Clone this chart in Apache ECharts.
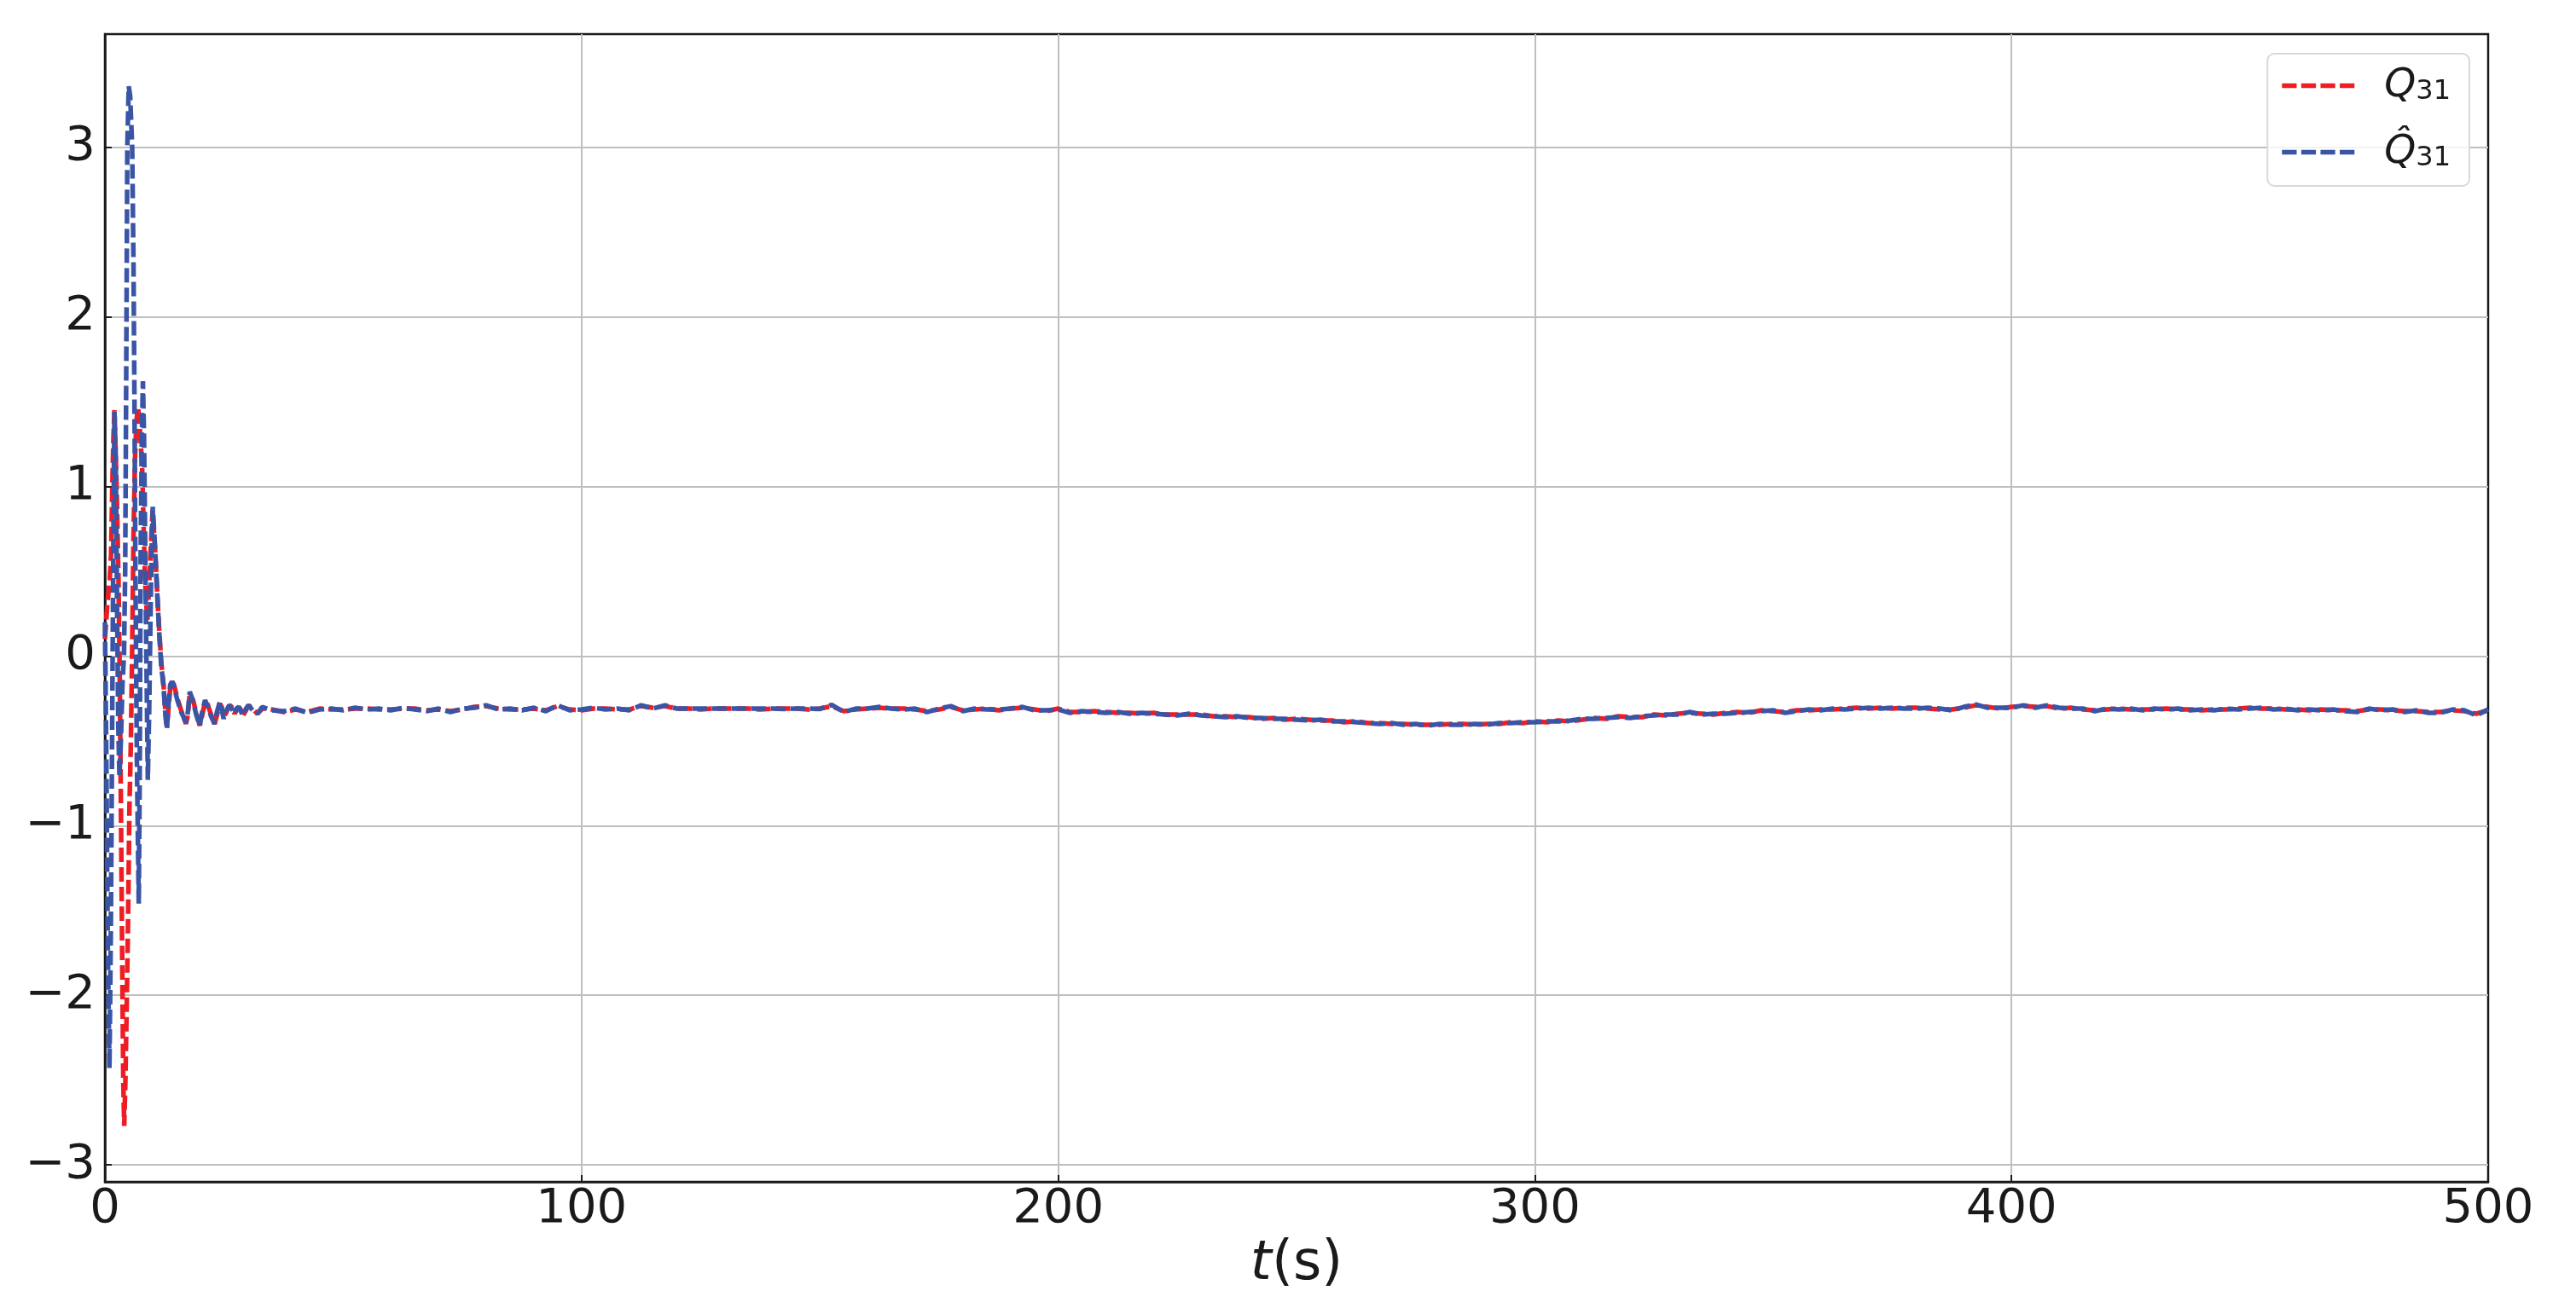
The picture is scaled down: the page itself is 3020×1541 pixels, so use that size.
<!DOCTYPE html>
<html>
<head>
<meta charset="utf-8">
<script src="https://cdn.jsdelivr.net/npm/echarts@6/dist/echarts.min.js"></script>
<style>
  html, body { margin: 0; padding: 0; background: #fff; }
  #chart { width: 3020px; height: 1541px; }
</style>
</head>
<body>
<div id="chart"></div>
<script>
// Q31 (red): start-up transient
const tEarlyQ = [0, 0.5, 1.0, 1.3, 1.55, 1.8, 2.0, 2.45, 2.85, 3.1,
  3.35, 3.65, 3.85, 4.05, 4.3, 4.55, 4.85, 5.15, 5.45, 5.7,
  6.0, 6.3, 6.6, 6.95, 7.3, 7.8, 8.4, 8.9, 9.4, 10.0]
const qEarly = [0.1, 0.3, 0.45, 0.6, 1.0, 1.3, 1.45, 1.0, 0.45, -0.1,
  -0.87, -1.86, -2.5, -2.77, -2.5, -2.1, -1.57, -0.89, -0.5, 0.0,
  0.7, 1.15, 1.38, 1.47, 1.35, 1.12, 0.46, 0.2, 0.5, 0.86]

// Q31 hat (blue): start-up transient
const tEarlyHat = [0, 0.3, 0.6, 0.95, 1.25, 1.55, 1.8, 2.0, 2.25, 2.55,
  2.8, 3.05, 3.35, 3.7, 4.0, 4.25, 4.35, 4.53, 4.7, 5.0,
  5.3, 5.72, 6.0, 6.2, 6.4, 6.7, 7.1, 7.3, 7.5, 7.75,
  7.97, 8.2, 8.4, 8.7, 9.0, 9.3, 9.6, 9.85, 10.05]
const qHatEarly = [0.2, -0.6, -1.7, -2.43, -1.6, -0.3, 0.8, 1.44, 1.2, 0.3,
  -0.4, -0.71, -0.5, -0.15, 0.0, 0.5, 1.0, 2.0, 3.0, 3.36,
  3.3, 3.0, 2.3, 1.5, 0.5, -0.6, -1.46, -0.7, 0.6, 1.3,
  1.62, 1.3, 0.8, 0.0, -0.73, -0.3, 0.3, 0.7, 0.88]

// damped ringing, both series
const tDecay = [10.5, 11.0, 11.4, 11.8, 12.3, 12.7, 13.0, 13.3, 13.7, 14.1,
  14.5, 15.2, 16.0, 17.0, 17.4, 17.8, 18.5, 19.2, 19.9, 20.4,
  21.0, 21.5, 22.2, 23.0, 23.5, 24.1, 24.5, 24.9, 25.5, 26.1,
  26.6, 27.2, 27.6, 28.1, 28.6, 29.0, 29.6, 30.1, 31.0, 32.0,
  33.0, 34.0]
const qDecay = [0.64, 0.36, 0.15, -0.03, -0.17, -0.33, -0.42, -0.32, -0.19, -0.15,
  -0.17, -0.25, -0.32, -0.40, -0.35, -0.22, -0.26, -0.34, -0.41, -0.35,
  -0.27, -0.28, -0.34, -0.40, -0.35, -0.28, -0.30, -0.36, -0.33, -0.29,
  -0.30, -0.34, -0.32, -0.30, -0.32, -0.35, -0.32, -0.29, -0.31, -0.34,
  -0.31, -0.31]
const qHatDecay = [0.65, 0.35, 0.13, -0.05, -0.18, -0.35, -0.43, -0.3, -0.17, -0.15,
  -0.18, -0.26, -0.33, -0.39, -0.33, -0.21, -0.27, -0.35, -0.41, -0.33,
  -0.26, -0.29, -0.35, -0.40, -0.33, -0.27, -0.31, -0.37, -0.32, -0.29,
  -0.31, -0.34, -0.31, -0.30, -0.33, -0.35, -0.31, -0.29, -0.32, -0.34,
  -0.30, -0.31]

// steady part, every 2.5 s
const tSteady = [35, 37.5, 40, 42.5, 45, 47.5, 50, 52.5, 55, 57.5,
  60, 62.5, 65, 67.5, 70, 72.5, 75, 77.5, 80, 82.5,
  85, 87.5, 90, 92.5, 95, 97.5, 100, 102.5, 105, 107.5,
  110, 112.5, 115, 117.5, 120, 122.5, 125, 127.5, 130, 132.5,
  135, 137.5, 140, 142.5, 145, 147.5, 150, 152.5, 155, 157.5,
  160, 162.5, 165, 167.5, 170, 172.5, 175, 177.5, 180, 182.5,
  185, 187.5, 190, 192.5, 195, 197.5, 200, 202.5, 205, 207.5,
  210, 212.5, 215, 217.5, 220, 222.5, 225, 227.5, 230, 232.5,
  235, 237.5, 240, 242.5, 245, 247.5, 250, 252.5, 255, 257.5,
  260, 262.5, 265, 267.5, 270, 272.5, 275, 277.5, 280, 282.5,
  285, 287.5, 290, 292.5, 295, 297.5, 300, 302.5, 305, 307.5,
  310, 312.5, 315, 317.5, 320, 322.5, 325, 327.5, 330, 332.5,
  335, 337.5, 340, 342.5, 345, 347.5, 350, 352.5, 355, 357.5,
  360, 362.5, 365, 367.5, 370, 372.5, 375, 377.5, 380, 382.5,
  385, 387.5, 390, 392.5, 395, 397.5, 400, 402.5, 405, 407.5,
  410, 412.5, 415, 417.5, 420, 422.5, 425, 427.5, 430, 432.5,
  435, 437.5, 440, 442.5, 445, 447.5, 450, 452.5, 455, 457.5,
  460, 462.5, 465, 467.5, 470, 472.5, 475, 477.5, 480, 482.5,
  485, 487.5, 490, 492.5, 495, 497.5, 500]
const qSteady = [-0.315, -0.33, -0.315, -0.33, -0.31, -0.315, -0.315, -0.31, -0.31, -0.315,
  -0.315, -0.31, -0.31, -0.32, -0.315, -0.325, -0.315, -0.3, -0.295, -0.31,
  -0.315, -0.315, -0.31, -0.32, -0.295, -0.315, -0.32, -0.31, -0.31, -0.315,
  -0.315, -0.295, -0.305, -0.295, -0.31, -0.31, -0.315, -0.31, -0.31, -0.31,
  -0.31, -0.315, -0.31, -0.31, -0.31, -0.315, -0.31, -0.295, -0.325, -0.315,
  -0.31, -0.305, -0.31, -0.31, -0.315, -0.325, -0.315, -0.3, -0.32, -0.315,
  -0.31, -0.32, -0.31, -0.305, -0.315, -0.325, -0.31, -0.33, -0.33, -0.325,
  -0.33, -0.335, -0.335, -0.34, -0.335, -0.345, -0.345, -0.345, -0.345, -0.355,
  -0.355, -0.36, -0.36, -0.37, -0.365, -0.375, -0.37, -0.375, -0.38, -0.38,
  -0.39, -0.385, -0.395, -0.395, -0.4, -0.4, -0.405, -0.405, -0.405, -0.4,
  -0.4, -0.405, -0.4, -0.4, -0.39, -0.395, -0.385, -0.39, -0.38, -0.385,
  -0.375, -0.365, -0.37, -0.355, -0.36, -0.36, -0.345, -0.35, -0.34, -0.335,
  -0.34, -0.345, -0.335, -0.33, -0.335, -0.32, -0.325, -0.33, -0.32, -0.32,
  -0.315, -0.315, -0.31, -0.305, -0.31, -0.305, -0.31, -0.305, -0.305, -0.31,
  -0.315, -0.315, -0.305, -0.29, -0.3, -0.31, -0.3, -0.295, -0.3, -0.295,
  -0.31, -0.305, -0.315, -0.32, -0.315, -0.31, -0.315, -0.315, -0.315, -0.31,
  -0.315, -0.315, -0.32, -0.315, -0.315, -0.31, -0.305, -0.31, -0.31, -0.315,
  -0.315, -0.32, -0.315, -0.32, -0.32, -0.325, -0.315, -0.315, -0.32, -0.325,
  -0.325, -0.33, -0.33, -0.32, -0.325, -0.34, -0.32]
const qHatSteady = [-0.32, -0.325, -0.31, -0.335, -0.315, -0.31, -0.32, -0.305, -0.315, -0.31,
  -0.32, -0.305, -0.315, -0.325, -0.31, -0.33, -0.31, -0.305, -0.29, -0.315,
  -0.31, -0.32, -0.305, -0.325, -0.29, -0.32, -0.315, -0.305, -0.315, -0.31,
  -0.32, -0.29, -0.31, -0.29, -0.31, -0.31, -0.31, -0.31, -0.31, -0.31,
  -0.31, -0.31, -0.31, -0.312, -0.31, -0.31, -0.312, -0.288, -0.33, -0.31,
  -0.31, -0.3, -0.31, -0.315, -0.31, -0.33, -0.31, -0.295, -0.325, -0.31,
  -0.315, -0.315, -0.31, -0.3, -0.32, -0.32, -0.315, -0.335, -0.325, -0.33,
  -0.335, -0.33, -0.34, -0.335, -0.34, -0.345, -0.35, -0.34, -0.35, -0.355,
  -0.36, -0.355, -0.365, -0.365, -0.37, -0.37, -0.375, -0.38, -0.375, -0.385,
  -0.385, -0.39, -0.395, -0.4, -0.395, -0.405, -0.4, -0.41, -0.4, -0.405,
  -0.405, -0.4, -0.405, -0.395, -0.395, -0.39, -0.39, -0.385, -0.385, -0.38,
  -0.37, -0.37, -0.365, -0.36, -0.365, -0.355, -0.35, -0.345, -0.345, -0.33,
  -0.345, -0.34, -0.34, -0.335, -0.33, -0.325, -0.32, -0.335, -0.325, -0.315,
  -0.32, -0.31, -0.315, -0.31, -0.305, -0.31, -0.305, -0.31, -0.31, -0.305,
  -0.31, -0.32, -0.3, -0.285, -0.305, -0.305, -0.305, -0.29, -0.305, -0.29,
  -0.305, -0.31, -0.31, -0.325, -0.31, -0.315, -0.31, -0.32, -0.31, -0.315,
  -0.31, -0.32, -0.315, -0.32, -0.31, -0.315, -0.31, -0.305, -0.315, -0.31,
  -0.32, -0.315, -0.32, -0.315, -0.325, -0.33, -0.31, -0.32, -0.315, -0.33,
  -0.32, -0.335, -0.335, -0.315, -0.32, -0.35, -0.315]

const xTicks = { min: 0, max: 500, step: 100 }
const yRange = { min: -3.1, max: 3.667 }

const FONT = 'DejaVu Sans'
const INK = '#1a1a1a'
const RED = '#ee1d24'
const BLUE = '#3a55a5'

// four dashes, same pattern as the plotted lines
const DASH_ICON = 'path://M0,0h17.3v5.7h-17.3z M22.7,0h17.3v5.7h-17.3z M45.4,0h17.3v5.7h-17.3z M68.1,0h17.3v5.7h-17.3z'

const pairs = (ts, vs) => ts.map((t, i) => [t, vs[i]])
const qData = [].concat(pairs(tEarlyQ, qEarly), pairs(tDecay, qDecay), pairs(tSteady, qSteady))
const qHatData = [].concat(pairs(tEarlyHat, qHatEarly), pairs(tDecay, qHatDecay), pairs(tSteady, qHatSteady))

// matplotlib style minus sign
const tickText = v => (v < 0 ? '\u2212' + Math.abs(v) : String(v))

const chart = echarts.init(document.getElementById('chart'))

const option = {
  animation: false,
  backgroundColor: '#ffffff',
  grid: {
    left: 123,
    right: 103,
    top: 40,
    bottom: 155,
    show: true,
    borderColor: INK,
    borderWidth: 2.5,
    backgroundColor: 'transparent',
    containLabel: false
  },
  legend: {
    orient: 'vertical',
    right: 125,
    top: 63,
    padding: [14, 22, 16, 17],
    backgroundColor: 'rgba(255,255,255,0.8)',
    borderColor: '#d9d9d9',
    borderWidth: 2,
    borderRadius: 8,
    itemWidth: 85,
    itemHeight: 6,
    itemGap: 31,
    data: [
      { name: 'Q31', icon: DASH_ICON, itemStyle: { color: RED } },
      { name: 'Qhat31', icon: DASH_ICON, itemStyle: { color: BLUE } }
    ],
    formatter: name => (name === 'Q31' ? '{q|Q}{s|31}' : '{q|Q\u0302}{s|31}'),
    textStyle: {
      color: INK,
      fontFamily: FONT,
      rich: {
        q: { fontSize: 47, fontStyle: 'italic', fontFamily: FONT, color: INK, verticalAlign: 'bottom', lineHeight: 47, padding: [0, 0, 0, 30] },
        s: { fontSize: 32, fontFamily: FONT, color: INK, verticalAlign: 'bottom', lineHeight: 32 }
      }
    }
  },
  xAxis: {
    type: 'value',
    min: xTicks.min,
    max: xTicks.max,
    interval: xTicks.step,
    name: '{it|t}(s)',
    nameLocation: 'middle',
    nameGap: 62,
    nameTextStyle: {
      fontSize: 64,
      fontFamily: FONT,
      color: INK,
      rich: {
        it: { fontSize: 64, fontStyle: 'italic', fontFamily: FONT, color: INK }
      }
    },
    axisLine: { show: true, onZero: false, lineStyle: { color: INK, width: 2.5 } },
    axisTick: { show: true, inside: true, length: 8, lineStyle: { color: INK, width: 2 } },
    axisLabel: { fontSize: 56, fontFamily: FONT, color: INK, margin: 4, formatter: tickText },
    splitLine: { show: true, showMinLine: false, showMaxLine: false, lineStyle: { color: '#bfbfbf', width: 2 } }
  },
  yAxis: {
    type: 'value',
    min: yRange.min,
    max: yRange.max,
    splitNumber: 7,
    axisLine: { show: true, onZero: false, lineStyle: { color: INK, width: 2.5 } },
    axisTick: { show: true, inside: true, length: 8, lineStyle: { color: INK, width: 2 } },
    axisLabel: {
      fontSize: 56,
      fontFamily: FONT,
      color: INK,
      margin: 11,
      showMinLabel: false,
      showMaxLabel: false,
      formatter: tickText
    },
    splitLine: { show: true, showMinLine: false, showMaxLine: false, lineStyle: { color: '#bfbfbf', width: 2 } }
  },
  series: [
    {
      name: 'Q31',
      type: 'line',
      data: qData,
      symbol: 'none',
      showSymbol: false,
      itemStyle: { color: RED },
      lineStyle: { color: RED, width: 5.5, type: [17, 6], cap: 'butt' }
    },
    {
      name: 'Qhat31',
      type: 'line',
      data: qHatData,
      symbol: 'none',
      showSymbol: false,
      itemStyle: { color: BLUE },
      lineStyle: { color: BLUE, width: 5.5, type: [17, 6], cap: 'butt' }
    }
  ]
}

chart.setOption(option)
</script>
</body>
</html>
